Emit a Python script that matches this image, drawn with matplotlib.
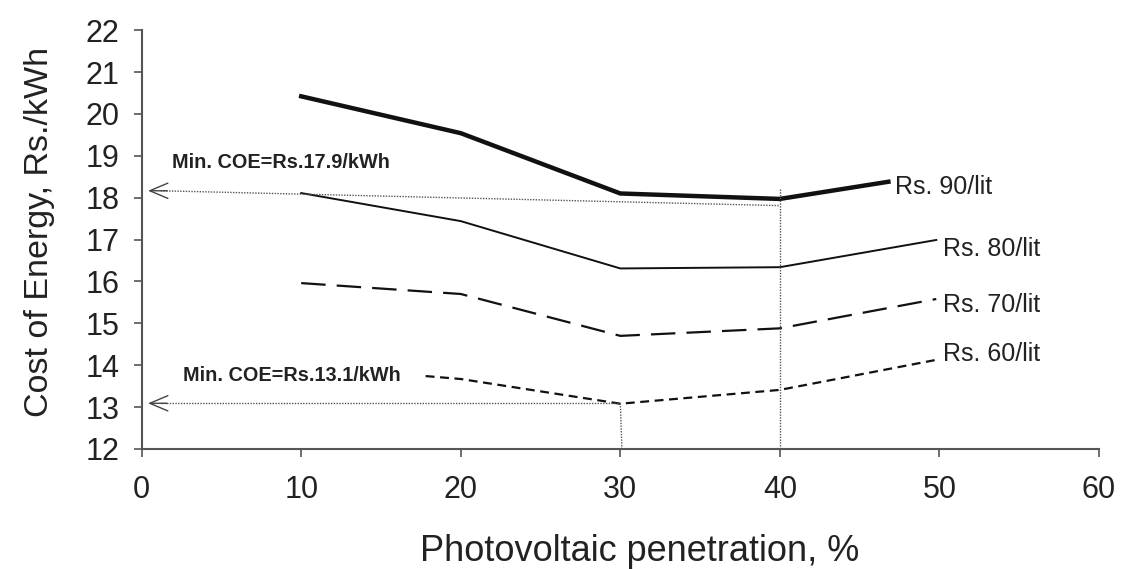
import numpy as np
import matplotlib
matplotlib.use("Agg")
import matplotlib.pyplot as plt

plt.rcParams['font.family'] = ['Liberation Sans', 'DejaVu Sans']

# Cost of energy (Rs./kWh) vs PV penetration (%) for different diesel prices
pv_90 = [10, 20, 30, 40, 46.8]
coe_90 = [20.42, 19.54, 18.10, 17.97, 18.38]

pv_80 = [10, 20, 30, 40, 49.8]
coe_80 = [18.11, 17.44, 16.31, 16.34, 16.99]

pv_70 = [10, 20, 30, 40, 49.8]
coe_70 = [15.96, 15.70, 14.70, 14.88, 15.58]

pv_60 = [17.8, 20, 30, 40, 49.7]
coe_60 = [13.74, 13.67, 13.08, 13.41, 14.12]

series_labels = ["Rs. 90/lit", "Rs. 80/lit", "Rs. 70/lit", "Rs. 60/lit"]
label_pos = [(47.2, 18.25), (50.2, 16.77), (50.2, 15.44), (50.2, 14.27)]

min_notes = ["Min. COE=Rs.17.9/kWh", "Min. COE=Rs.13.1/kWh"]

fig = plt.figure(figsize=(11.35, 5.69), dpi=100)
ax = fig.add_axes([0.1248, 0.211, 0.8435, 0.736])

ink = '#111111'
ax.plot(pv_90, coe_90, color=ink, lw=3.2, solid_joinstyle='miter')
ax.plot(pv_80, coe_80, color=ink, lw=1.4)
ax.plot(pv_70, coe_70, color=ink, lw=1.6, dashes=(11, 5))
ax.plot(pv_60, coe_60, color=ink, lw=1.6, dashes=(4, 2.5))

for lab, (x, y) in zip(series_labels, label_pos):
    ax.text(x, y, lab, fontsize=18, ha='left', va='center', color='#222222')

# guide lines for minimum COE
dot = dict(color='#555555', lw=1.0, ls=(0, (1, 1)))
ax.plot([1.2, 40], [18.165, 17.81], **dot)
ax.plot([40, 40], [18.2, 12], **dot)
ax.plot([1.2, 30], [13.09, 13.09], **dot)
ax.plot([30, 30.1], [13.09, 12], **dot)

for y in [18.165, 13.09]:
    ax.annotate('', xy=(0.4, y), xytext=(1.6, y),
                arrowprops=dict(arrowstyle='->, head_length=1.3, head_width=0.55',
                                color='#444444', lw=1.0, shrinkA=0, shrinkB=0))

ax.text(1.9, 18.85, min_notes[0], fontsize=14.3, fontweight='bold', color='#222222',
        ha='left', va='center')
ax.text(2.6, 13.75, min_notes[1], fontsize=14.3, fontweight='bold', color='#222222',
        ha='left', va='center')

ax.set_xlim(0, 60)
ax.set_ylim(12, 22)
ax.set_xticks(np.arange(0, 61, 10))
ax.set_yticks(np.arange(12, 23, 1))
ax.tick_params(labelsize=22, colors='#222222', length=6, width=1.2, direction='out')
ax.tick_params(axis='x', pad=13)
ax.tick_params(axis='y', pad=10)
ax.tick_params(axis='both', color='#555555')

for s in ['top', 'right']:
    ax.spines[s].set_visible(False)
for s in ['left', 'bottom']:
    ax.spines[s].set_color('#555555')
    ax.spines[s].set_linewidth(1.5)

ax.set_xlabel("Photovoltaic penetration, %", fontsize=26, color='#222222')
ax.set_ylabel("Cost of Energy, Rs./kWh", fontsize=24.5, color='#222222')
ax.xaxis.set_label_coords(0.52, -0.203)
ax.yaxis.set_label_coords(-0.091, 0.518)

fig.savefig("out.png", dpi=100)
